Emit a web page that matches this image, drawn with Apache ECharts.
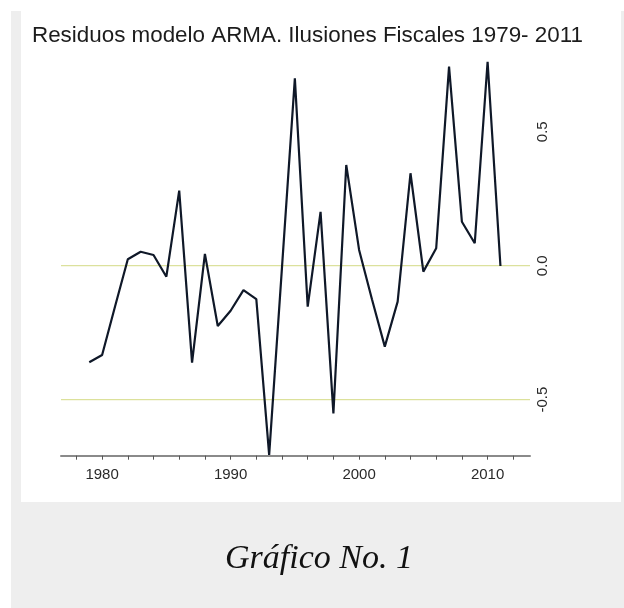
<!DOCTYPE html>
<html>
<head>
<meta charset="utf-8">
<style>
  html, body { margin: 0; padding: 0; background: #ffffff; }
  #chart { width: 624px; height: 608px; }
</style>
<script src="https://cdn.jsdelivr.net/npm/echarts@6/dist/echarts.min.js"></script>
</head>
<body>
<div id="chart"></div>
<script>
// ---- data ----
const chartTitle = 'Residuos modelo ARMA. Ilusiones Fiscales 1979- 2011';
const caption = 'Gráfico No. 1';
const years = [1979, 1980, 1981, 1982, 1983, 1984, 1985, 1986, 1987, 1988,
               1989, 1990, 1991, 1992, 1993, 1994, 1995, 1996, 1997, 1998,
               1999, 2000, 2001, 2002, 2003, 2004, 2005, 2006, 2007, 2008,
               2009, 2010, 2011];
const residuals = [-0.360, -0.333, -0.153, 0.024, 0.052, 0.040, -0.041, 0.280, -0.362, 0.044,
                   -0.225, -0.168, -0.091, -0.125, -0.706, -0.005, 0.699, -0.153, 0.201, -0.551,
                   0.376, 0.059, -0.125, -0.302, -0.134, 0.345, -0.022, 0.065, 0.743, 0.164,
                   0.084, 0.761, -0.001];
const xTickValues = [1978, 1980, 1982, 1984, 1986, 1988, 1990, 1992, 1994, 1996, 1998,
                     2000, 2002, 2004, 2006, 2008, 2010, 2012];
const xLabelValues = [1980, 1990, 2000, 2010];
const yLabelValues = [-0.5, 0.0, 0.5];
const refLines = [0.0, -0.5];

const X_MIN = 1976.8, X_MAX = 2013.3;

const chart = echarts.init(document.getElementById('chart'), null, { renderer: 'canvas' });

const seriesData = years.map((y, i) => [y, residuals[i]]);

const refSeries = refLines.map(v => ({
  type: 'line',
  silent: true,
  showSymbol: false,
  symbol: 'none',
  data: [[X_MIN, v], [X_MAX, v]],
  lineStyle: { color: '#d4da84', width: 1 },
  emphasis: { disabled: true },
  z: 1
}));

chart.setOption({
  backgroundColor: '#ffffff',
  animation: false,
  graphic: [
    { type: 'rect', z: -20, silent: true, shape: { x: 11, y: 11, width: 620, height: 600 }, style: { fill: '#eeeeee' } },
    { type: 'rect', z: -19, silent: true, shape: { x: 21, y: 11, width: 600, height: 491 }, style: { fill: '#ffffff' } },
    { type: 'text', z: 10, silent: true,
      style: { x: 319, y: 559, text: caption, textAlign: 'center', textVerticalAlign: 'middle',
               font: 'italic 34px "Liberation Serif", serif', fill: '#111111' } }
  ],
  title: {
    text: chartTitle,
    left: 32, top: 25,
    padding: 0,
    textStyle: { fontFamily: '"Liberation Sans", Arial, sans-serif', fontSize: 22.4, fontWeight: 'normal', color: '#1c1c1c' }
  },
  grid: { left: 61, right: 94, top: 56.7, bottom: 152.3, containLabel: false },
  xAxis: {
    type: 'value',
    min: X_MIN, max: X_MAX,
    axisLine: { show: true, onZero: false, lineStyle: { color: '#8a8a8a', width: 2 } },
    axisTick: { show: true, customValues: xTickValues, length: 4, lineStyle: { color: '#555555', width: 1 } },
    axisLabel: { customValues: xLabelValues, margin: 12, color: '#2a2a2a',
                 fontFamily: '"Liberation Sans", Arial, sans-serif', fontSize: 15,
                 formatter: v => String(Math.round(v)) },
    splitLine: { show: false }
  },
  yAxis: {
    type: 'value',
    position: 'right',
    min: -0.709, max: 0.78,
    axisLine: { show: false },
    axisTick: { show: false },
    splitLine: { show: false },
    axisLabel: { customValues: yLabelValues, rotate: 90, margin: 5, color: '#2a2a2a',
                 fontFamily: '"Liberation Sans", Arial, sans-serif', fontSize: 15,
                 formatter: v => v.toFixed(1) }
  },
  series: refSeries.concat([{
    type: 'line',
    data: seriesData,
    showSymbol: false,
    symbol: 'none',
    lineStyle: { color: '#0f1828', width: 2.2 },
    z: 3
  }])
});
</script>
</body>
</html>
